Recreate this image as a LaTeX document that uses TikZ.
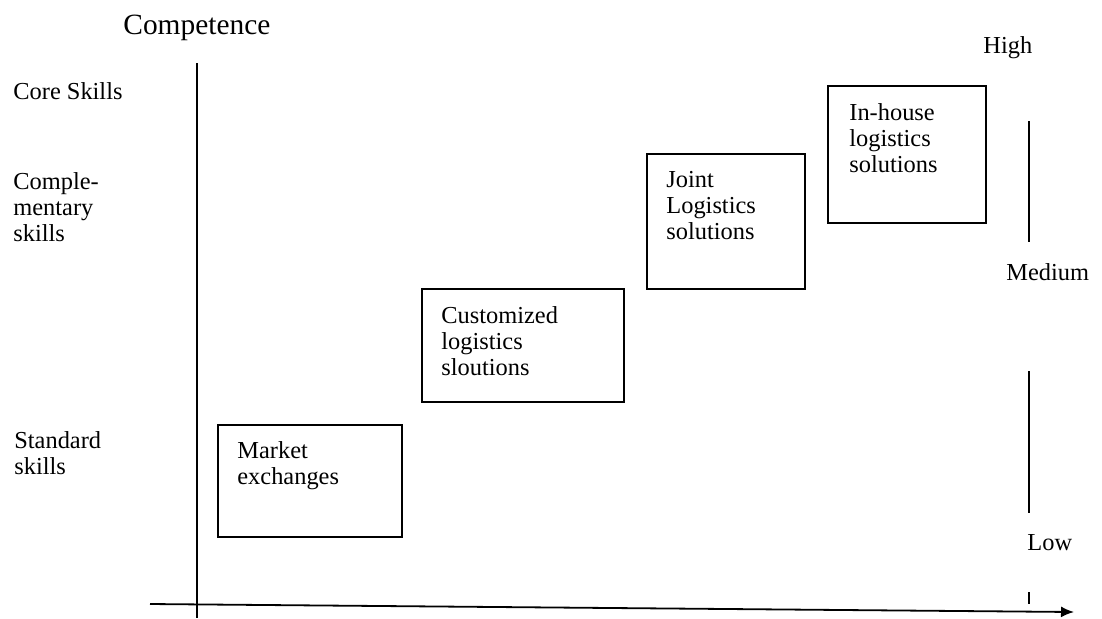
\documentclass[tikz,border=0pt]{standalone}
\usepackage{fontspec}
\setmainfont{Liberation Serif}
\usetikzlibrary{arrows.meta}
\begin{document}
\begin{tikzpicture}[x=0.5pt,y=-0.5pt,
  lbl/.style={inner sep=0pt, anchor=north west, align=left,
    font=\fontsize{12.2}{13.1}\selectfont},
  title/.style={inner sep=0pt, anchor=north west,
    font=\fontsize{14.7}{16}\selectfont},
  box/.style={draw, line width=0.9pt, inner sep=0pt, anchor=north west},
  axis/.style={line width=0.9pt}]
\useasboundingbox (0,0) rectangle (1102,618);

% axes
\coordinate (ytop) at (197,63);
\coordinate (ybot) at (197,618);
\coordinate (xstart) at (150,604);
\coordinate (xend) at (1074,612);
\draw[axis] (ytop) -- (ybot);
\draw[axis,-{Latex[length=6.5pt,width=5.5pt]}] (xstart) -- (xend);

% level scale on the right
\coordinate (tickA) at (1029,592);
\coordinate (tickB) at (1029,604);
\coordinate (hiA) at (1029,121);
\coordinate (hiB) at (1029,242);
\coordinate (loA) at (1029,371);
\coordinate (loB) at (1029,513);
\draw[axis] (tickA) -- (tickB);
\draw[axis] (hiA) -- (hiB);
\draw[axis] (loA) -- (loB);

% labels
\node[title] (comp) at (123,15) {Competence};
\node[lbl] (high) at (983,36) {High};
\node[lbl] (medium) at (1006,263) {Medium};
\node[lbl] (low) at (1027,534) {Low};
\node[lbl] (core) at (13,82) {Core Skills};
\node[lbl] (compl) at (13,172) {Comple-\\mentary\\skills};
\node[lbl] (std) at (14,431) {Standard\\skills};

% solution boxes
\node[box, minimum width=92pt, minimum height=56pt] (mkt) at (217,424) {};
\node[box, minimum width=101pt, minimum height=56.5pt] (cust) at (421,288) {};
\node[box, minimum width=79pt, minimum height=67.5pt] (joint) at (646,153) {};
\node[box, minimum width=79pt, minimum height=68.5pt] (inh) at (827,85) {};

\node[lbl] (mkttxt) at (237,441) {Market\\exchanges};
\node[lbl] (custtxt) at (441,306) {Customized\\logistics\\sloutions};
\node[lbl] (jointtxt) at (666,171) {Joint\\Logistics\\solutions};
\node[lbl] (inhtxt) at (849,103) {In-house\\logistics\\solutions};
\end{tikzpicture}
\end{document}
